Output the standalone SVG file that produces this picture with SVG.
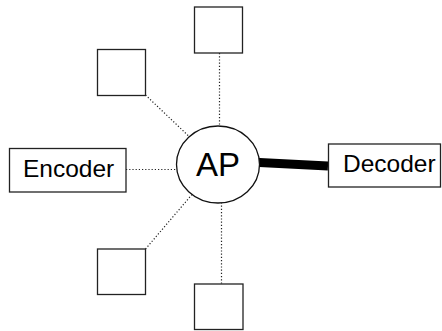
<svg xmlns="http://www.w3.org/2000/svg" width="442" height="331" viewBox="0 0 442 331">
<style>
.box{fill:#fff;stroke:#222;stroke-width:1.3}
.dot{stroke:#222;stroke-width:1.2;stroke-dasharray:1.2 2;fill:none}
.lbl{font-family:"Liberation Sans",Arial,sans-serif;fill:#000}
</style>
<rect width="442" height="331" fill="#fff"/>
<g id="connectors">
<line class="dot" x1="126" y1="169.5" x2="218" y2="169.5"/>
<line class="dot" x1="219.5" y1="53" x2="219.5" y2="164"/>
<line class="dot" x1="221.5" y1="164" x2="221.5" y2="284"/>
<line class="dot" x1="145.5" y1="95" x2="218" y2="164"/>
<line class="dot" x1="145.5" y1="249" x2="218" y2="164"/>
<line x1="240" y1="161.5" x2="328" y2="166" stroke="#000" stroke-width="9"/>
</g>
<g id="n-top"><rect class="box" x="194.5" y="7" width="48" height="46"/></g>
<g id="n-topleft"><rect class="box" x="97.5" y="49.5" width="48" height="46"/></g>
<g id="n-bottomleft"><rect class="box" x="97.5" y="249" width="48" height="45.5"/></g>
<g id="n-bottom"><rect class="box" x="194.5" y="284" width="48.5" height="45.5"/></g>
<g id="n-encoder"><rect class="box" x="9.5" y="148.5" width="116.5" height="43.5"/><text class="lbl" x="23" y="177" font-size="24.5">Encoder</text></g>
<g id="n-decoder"><rect class="box" x="328.5" y="144" width="112" height="43"/><text class="lbl" x="343" y="172" font-size="24.5">Decoder</text></g>
<g id="n-ap"><ellipse cx="218" cy="164.5" rx="41.5" ry="38.5" fill="#fff" stroke="#111" stroke-width="1.3"/><text class="lbl" x="218" y="176" font-size="33" text-anchor="middle">AP</text></g>
</svg>
